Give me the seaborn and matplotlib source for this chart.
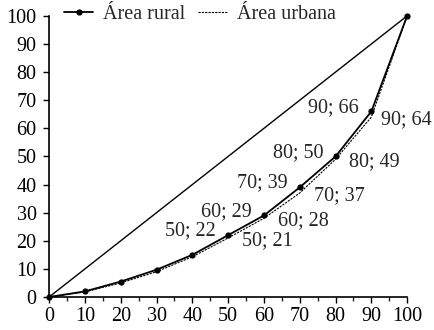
import matplotlib
matplotlib.use("Agg")
import matplotlib.pyplot as plt
import seaborn as sns
import pandas as pd
from matplotlib.ticker import MultipleLocator

pop = [0, 10, 20, 30, 40, 50, 60, 70, 80, 90, 100]
rural = [0, 2, 5.5, 9.7, 15, 22, 29, 39, 50, 66, 100]
urbana = [0, 1.8, 5, 9, 14.3, 21, 28, 37, 49, 64, 100]
label_pts = [50, 60, 70, 80, 90]
label_vals_rural = [22, 29, 39, 50, 66]
label_vals_urbana = [21, 28, 37, 49, 64]
equal = [0, 100]

FS = 14.5
sns.set_style("ticks")
plt.rcParams['font.family'] = ['Liberation Serif', 'DejaVu Serif']
plt.rcParams['font.size'] = FS

fig = plt.figure(figsize=(4.35, 3.3), dpi=100)
ax = fig.add_axes([0.113, 0.10, 0.823, 0.852])

df_r = pd.DataFrame({"x": pop, "y": rural})
df_u = pd.DataFrame({"x": pop, "y": urbana})
df_e = pd.DataFrame({"x": equal, "y": equal})

sns.lineplot(data=df_e, x="x", y="y", ax=ax, color="black", lw=1.0, label="_nolegend_")
sns.lineplot(data=df_u, x="x", y="y", ax=ax, color="black", lw=0.8,
             linestyle=(0, (2, 1)), label="Área urbana")
sns.lineplot(data=df_r, x="x", y="y", ax=ax, color="black", lw=1.3,
             marker="o", markersize=4.5, markeredgewidth=0, label="Área rural")

for xp, vr, vu in zip(label_pts, label_vals_rural, label_vals_urbana):
    ax.annotate(f"{xp}; {vr}", (xp, vr), xytext=(-9, 3), textcoords="offset points",
                ha="right", va="center", fontsize=FS)
    dx = 7 if xp == 90 else 10
    ax.annotate(f"{xp}; {vu}", (xp, vu), xytext=(dx, -2), textcoords="offset points",
                ha="left", va="center", fontsize=FS)

ax.set_xlim(0, 100)
ax.set_ylim(0, 100)
ax.xaxis.set_major_locator(MultipleLocator(10))
ax.xaxis.set_minor_locator(MultipleLocator(5))
ax.yaxis.set_major_locator(MultipleLocator(10))
ax.tick_params(axis="both", which="major", length=4, width=1, direction="out",
               labelsize=FS, colors="black", pad=3)
ax.tick_params(axis="y", which="major", pad=5)
ax.tick_params(axis="x", which="minor", length=3, width=1, direction="out")
ax.set_xlabel("")
ax.set_ylabel("")
for s in ["top", "right"]:
    ax.spines[s].set_visible(False)
for s in ["left", "bottom"]:
    ax.spines[s].set_linewidth(1.2)
    ax.spines[s].set_color("black")
ax.margins(0)
for ln in ax.get_lines():
    ln.set_clip_on(False)

handles, labels = ax.get_legend_handles_labels()
order = [labels.index("Área rural"), labels.index("Área urbana")]
ax.legend([handles[i] for i in order], [labels[i] for i in order],
          loc="upper left", bbox_to_anchor=(0.025, 1.06), ncol=2, frameon=False,
          fontsize=FS, handlelength=1.45, handletextpad=0.5, columnspacing=0.6,
          borderpad=0.1, borderaxespad=0.2)

fig.savefig("out.png", dpi=100)
